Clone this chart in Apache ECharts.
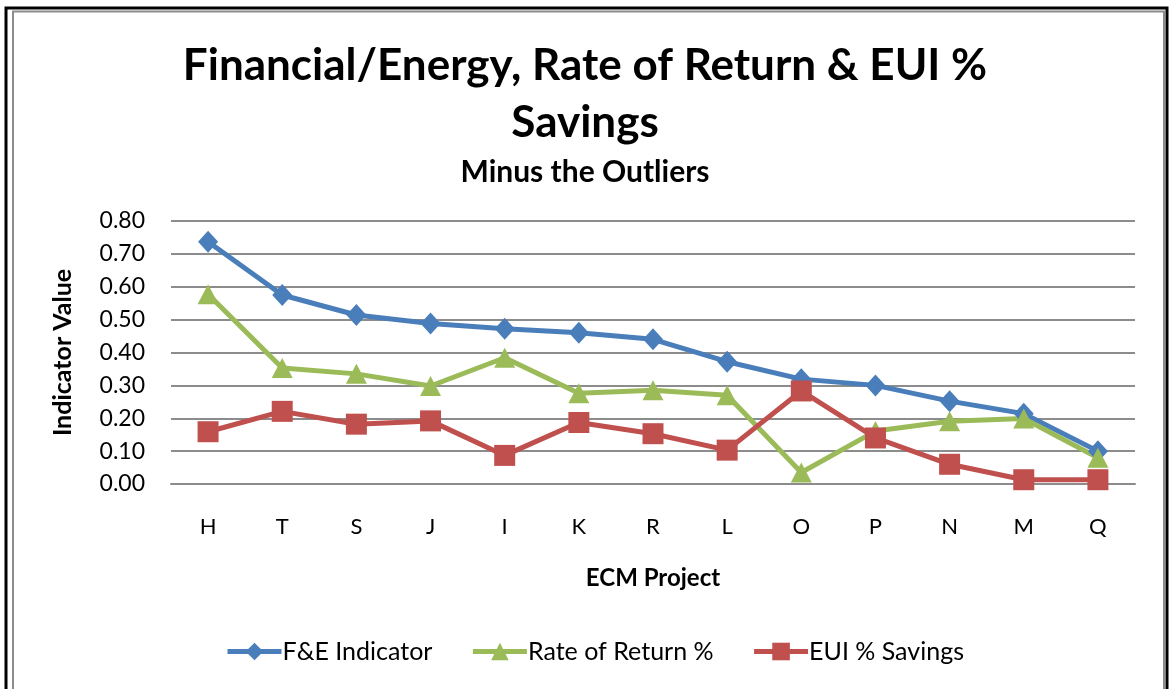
<!DOCTYPE html>
<html>
<head>
<meta charset="utf-8">
<script src="https://cdn.jsdelivr.net/npm/echarts@6/dist/echarts.min.js"></script>
<style>
  html, body { margin: 0; padding: 0; background: #fff; }
  #chart { width: 1170px; height: 689px; }
</style>
</head>
<body>
<div id="chart"></div>
<script>
// ECM projects, ordered by F&E indicator
const categories = ['H', 'T', 'S', 'J', 'I', 'K', 'R', 'L', 'O', 'P', 'N', 'M', 'Q'];
const feIndicator = [0.737, 0.575, 0.514, 0.488, 0.472, 0.460, 0.440, 0.372, 0.319, 0.300, 0.252, 0.214, 0.100];
const rateOfReturn = [0.577, 0.353, 0.335, 0.298, 0.384, 0.276, 0.285, 0.270, 0.035, 0.161, 0.191, 0.199, 0.080];
const euiSavings = [0.159, 0.221, 0.182, 0.192, 0.087, 0.187, 0.153, 0.103, 0.283, 0.140, 0.060, 0.013, 0.013];
const seriesNames = ['F&E Indicator', 'Rate of Return %', 'EUI % Savings'];

const FONT = 'Lato';
const chart = echarts.init(document.getElementById('chart'), null, { renderer: 'canvas' });

function lineSeries(name, data, color, symbol, size) {
  return {
    name: name,
    type: 'line',
    data: data,
    symbol: symbol,
    symbolSize: size,
    showSymbol: true,
    lineStyle: { color: color, width: 5 },
    itemStyle: { color: color, borderWidth: 0 },
    emphasis: { disabled: true },
    z: 3
  };
}

chart.setOption({
  animation: false,
  backgroundColor: '#ffffff',
  graphic: [
    { type: 'rect', silent: true, shape: { x: 6, y: 8, width: 1161, height: 720 },
      style: { fill: 'none', stroke: '#000000', lineWidth: 3 } },
    { type: 'rect', silent: true, shape: { x: 13, y: 11.5, width: 1151, height: 720 },
      style: { fill: 'none', stroke: '#8c8c8c', lineWidth: 2 } }
  ],
  title: [
    {
      text: 'Financial/Energy, Rate of Return & EUI %\nSavings',
      left: 'center',
      top: 32,
      textStyle: { fontFamily: FONT, fontWeight: 'bold', fontSize: 44, lineHeight: 57, color: '#000' }
    },
    {
      text: 'Minus the Outliers',
      left: 'center',
      top: 152,
      textStyle: { fontFamily: FONT, fontWeight: 'bold', fontSize: 30, color: '#000' }
    }
  ],
  legend: {
    top: 634,
    left: 220,
    itemWidth: 54,
    itemHeight: 22,
    itemGap: 38,
    data: seriesNames,
    lineStyle: { width: 5 },
    textStyle: { fontFamily: FONT, fontSize: 25, color: '#000', padding: [0, 0, 0, -4] }
  },
  grid: { left: 171, right: 35, top: 221, bottom: 205, containLabel: false },
  xAxis: {
    type: 'category',
    data: categories,
    boundaryGap: true,
    axisLine: { show: true, lineStyle: { color: '#8c8c8c', width: 2 } },
    axisTick: { show: false },
    axisLabel: { fontFamily: FONT, fontSize: 22, color: '#000', margin: 32 },
    name: 'ECM Project',
    nameLocation: 'middle',
    nameGap: 82,
    nameTextStyle: { fontFamily: FONT, fontWeight: 'bold', fontSize: 24, color: '#000' }
  },
  yAxis: {
    type: 'value',
    min: 0,
    max: 0.8,
    interval: 0.1,
    axisLine: { show: false },
    axisTick: { show: false },
    splitLine: { show: true, lineStyle: { color: '#8c8c8c', width: 2 } },
    axisLabel: {
      fontFamily: FONT, fontSize: 23, color: '#000', margin: 26,
      formatter: v => v.toFixed(2)
    },
    name: 'Indicator Value',
    nameLocation: 'middle',
    nameGap: 96,
    nameTextStyle: { fontFamily: FONT, fontWeight: 'bold', fontSize: 25, color: '#000' }
  },
  series: [
    lineSeries(seriesNames[0], feIndicator, '#4a7ebb', 'diamond', [20, 22]),
    lineSeries(seriesNames[1], rateOfReturn, '#9bbb59', 'triangle', [21, 20]),
    lineSeries(seriesNames[2], euiSavings, '#c0504d', 'rect', 21)
  ]
});
</script>
</body>
</html>
